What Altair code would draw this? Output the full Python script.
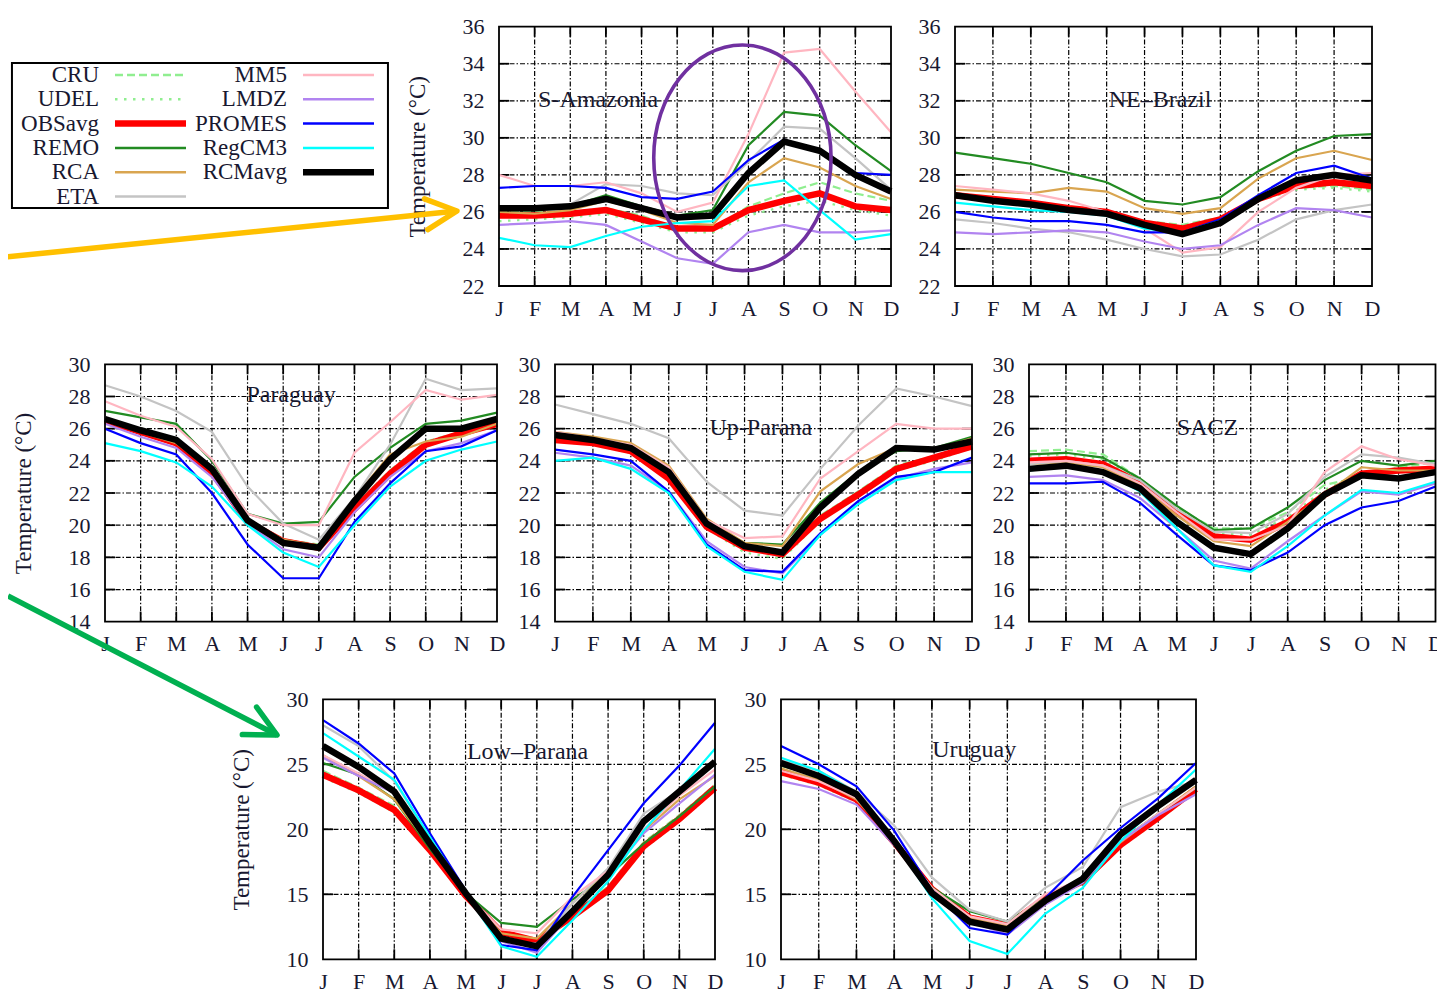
import json
import altair as alt
import pandas as pd

W, H = 1429, 982
FONT = "Liberation Serif"
INK = "#181830"

MONTHS = ["J", "F", "M", "A", "M", "J", "J", "A", "S", "O", "N", "D"]
SERIES = ["CRU", "UDEL", "OBSavg", "REMO", "RCA", "ETA", "MM5", "LMDZ", "PROMES", "RegCM3", "RCMavg"]
COLORS = ["#90ee90", "#90ee90", "#ff0000", "#228b22", "#d9a550", "#c4c4c4",
          "#ffb6c1", "#b184f0", "#0000ff", "#00ffff", "#000000"]
OBS_DASHED = ["CRU", "UDEL"]
DASHES = [[8, 4], [2.5, 6.5]]
MODELS = ["ETA", "MM5", "LMDZ", "RCA", "REMO", "PROMES", "RegCM3"]

S_AMAZONIA = {
    "CRU":    [26.0, 26.0, 26.0, 26.2, 25.8, 25.1, 25.1, 26.3, 27.0, 27.6, 27.0, 26.6],
    "UDEL":   [25.5, 25.6, 25.7, 25.9, 25.4, 24.9, 24.9, 25.8, 26.3, 26.6, 26.1, 25.8],
    "OBSavg": [25.8, 25.8, 25.9, 26.1, 25.6, 25.1, 25.1, 26.1, 26.6, 27.0, 26.3, 26.1],
    "REMO":   [26.1, 26.1, 26.3, 26.9, 26.3, 25.8, 26.1, 29.6, 31.4, 31.2, 29.6, 28.2],
    "RCA":    [26.0, 25.9, 26.1, 26.6, 26.1, 25.4, 25.3, 27.6, 28.9, 28.4, 27.4, 26.7],
    "ETA":    [26.3, 26.3, 26.4, 27.5, 27.4, 27.0, 26.9, 28.7, 30.6, 30.5, 28.9, 27.2],
    "MM5":    [28.0, 27.4, 27.4, 27.6, 27.0, 26.0, 26.5, 30.2, 34.6, 34.8, 32.5, 30.3],
    "LMDZ":   [25.3, 25.4, 25.5, 25.3, 24.4, 23.5, 23.2, 24.9, 25.3, 24.9, 24.9, 25.0],
    "PROMES": [27.3, 27.4, 27.4, 27.3, 26.8, 26.7, 27.1, 28.8, 29.9, 29.3, 28.1, 28.0],
    "RegCM3": [24.6, 24.2, 24.1, 24.7, 25.2, 25.4, 25.5, 27.4, 27.7, 26.1, 24.5, 24.8],
    "RCMavg": [26.2, 26.2, 26.3, 26.7, 26.2, 25.7, 25.8, 28.1, 29.8, 29.3, 28.0, 27.1],
}
NE_BRAZIL = {
    "CRU":    [26.9, 26.7, 26.5, 26.2, 26.0, 25.5, 25.3, 25.7, 26.7, 27.3, 27.4, 27.2],
    "UDEL":   [26.8, 26.6, 26.4, 26.1, 25.9, 25.3, 25.0, 25.5, 26.6, 27.2, 27.3, 27.1],
    "OBSavg": [26.9, 26.7, 26.5, 26.2, 26.0, 25.4, 25.1, 25.6, 26.7, 27.4, 27.6, 27.4],
    "REMO":   [29.2, 28.9, 28.6, 28.1, 27.6, 26.6, 26.4, 26.8, 28.2, 29.3, 30.1, 30.2],
    "RCA":    [27.2, 27.1, 27.0, 27.3, 27.1, 26.2, 25.9, 26.2, 27.8, 28.9, 29.3, 28.8],
    "ETA":    [25.6, 25.4, 25.1, 24.9, 24.5, 24.0, 23.6, 23.7, 24.5, 25.6, 26.1, 26.4],
    "MM5":    [27.4, 27.2, 27.0, 26.6, 26.0, 25.1, 23.8, 24.1, 26.0, 27.3, 28.0, 28.1],
    "LMDZ":   [24.9, 24.8, 24.9, 25.0, 24.9, 24.4, 24.0, 24.2, 25.3, 26.2, 26.1, 25.7],
    "PROMES": [26.0, 25.7, 25.5, 25.5, 25.3, 24.9, 24.9, 25.6, 26.9, 28.1, 28.5, 27.8],
    "RegCM3": [26.5, 26.3, 26.1, 26.0, 25.8, 25.1, 24.9, 25.5, 26.7, 27.8, 28.0, 27.8],
    "RCMavg": [26.9, 26.6, 26.4, 26.1, 25.9, 25.3, 24.8, 25.4, 26.7, 27.7, 28.0, 27.7],
}
PARAGUAY = {
    "CRU":    [26.6, 25.9, 25.2, 23.4, 20.3, 19.1, 18.8, 21.2, 23.4, 25.2, 25.8, 26.4],
    "UDEL":   [26.4, 25.7, 25.0, 23.2, 20.1, 18.9, 18.5, 20.9, 23.1, 24.9, 25.6, 26.2],
    "OBSavg": [26.5, 25.8, 25.1, 23.3, 20.2, 19.0, 18.6, 21.0, 23.2, 25.0, 25.7, 26.3],
    "REMO":   [27.1, 26.7, 26.3, 24.0, 20.7, 20.1, 20.2, 23.0, 24.8, 26.3, 26.5, 27.0],
    "RCA":    [26.5, 25.8, 25.1, 23.4, 20.3, 19.1, 18.7, 21.7, 24.4, 25.2, 25.5, 26.3],
    "ETA":    [28.7, 28.0, 27.1, 25.8, 22.4, 20.1, 19.1, 21.7, 25.0, 29.1, 28.4, 28.5],
    "MM5":    [27.7, 26.8, 26.1, 24.1, 20.7, 20.0, 20.0, 24.5, 26.4, 28.4, 27.8, 28.1],
    "LMDZ":   [26.3, 25.5, 24.8, 23.0, 20.1, 18.5, 18.0, 20.8, 23.0, 24.6, 25.1, 25.9],
    "PROMES": [26.0, 25.1, 24.4, 22.0, 18.8, 16.7, 16.7, 20.2, 22.6, 24.6, 24.9, 25.9],
    "RegCM3": [25.1, 24.6, 23.9, 22.4, 20.0, 18.3, 17.4, 20.0, 22.4, 24.0, 24.7, 25.2],
    "RCMavg": [26.6, 25.9, 25.3, 23.5, 20.3, 18.9, 18.6, 21.5, 24.1, 26.0, 26.0, 26.6],
}
UP_PARANA = {
    "CRU":    [25.4, 25.2, 24.7, 23.0, 20.0, 18.5, 18.2, 20.6, 22.1, 23.7, 24.3, 25.0],
    "UDEL":   [25.2, 25.0, 24.5, 22.8, 19.8, 18.3, 17.9, 20.3, 21.8, 23.4, 24.0, 24.8],
    "OBSavg": [25.3, 25.1, 24.6, 22.9, 19.9, 18.6, 18.2, 20.4, 21.9, 23.5, 24.2, 24.9],
    "REMO":   [25.5, 25.3, 24.7, 23.3, 20.2, 18.9, 18.8, 21.4, 23.3, 24.6, 24.8, 25.5],
    "RCA":    [25.8, 25.5, 25.1, 23.7, 20.4, 18.9, 18.7, 22.1, 23.8, 24.8, 24.7, 25.4],
    "ETA":    [27.5, 26.9, 26.3, 25.4, 22.7, 20.9, 20.6, 23.5, 26.2, 28.5, 28.0, 27.4],
    "MM5":    [25.8, 25.4, 25.0, 23.6, 20.3, 19.2, 19.3, 22.9, 24.6, 26.3, 26.0, 26.0],
    "LMDZ":   [24.5, 24.2, 23.7, 22.1, 19.0, 17.4, 17.0, 19.4, 21.5, 22.9, 23.5, 23.9],
    "PROMES": [24.7, 24.4, 24.0, 22.1, 18.8, 17.2, 17.1, 19.5, 21.5, 23.0, 23.3, 24.2],
    "RegCM3": [24.0, 24.2, 23.5, 22.0, 18.7, 17.1, 16.6, 19.4, 21.3, 22.8, 23.3, 23.3],
    "RCMavg": [25.6, 25.3, 24.8, 23.3, 20.1, 18.7, 18.3, 21.1, 23.2, 24.8, 24.7, 25.2],
}
SACZ = {
    "CRU":    [24.6, 24.7, 24.4, 22.9, 21.1, 19.8, 19.8, 20.8, 22.5, 23.0, 23.6, 23.9],
    "UDEL":   [24.3, 24.4, 24.1, 22.7, 20.9, 19.5, 19.4, 20.5, 22.2, 23.2, 23.4, 23.7],
    "OBSavg": [24.0, 24.1, 23.8, 22.6, 20.8, 19.3, 19.1, 20.2, 21.9, 23.2, 23.4, 23.5],
    "REMO":   [24.4, 24.5, 24.2, 22.9, 21.2, 19.7, 19.8, 21.1, 22.8, 24.0, 23.7, 24.0],
    "RCA":    [23.8, 23.9, 23.6, 22.5, 20.6, 19.0, 18.7, 20.2, 21.9, 23.6, 23.4, 23.4],
    "ETA":    [23.8, 24.0, 23.7, 22.8, 21.0, 19.6, 19.5, 20.7, 23.0, 24.4, 24.2, 23.8],
    "MM5":    [23.9, 24.0, 23.7, 22.6, 20.8, 19.1, 19.1, 20.0, 23.3, 24.9, 24.1, 23.7],
    "LMDZ":   [23.0, 23.1, 22.8, 21.7, 19.8, 17.8, 17.3, 19.0, 20.6, 22.1, 21.9, 22.6],
    "PROMES": [22.6, 22.6, 22.7, 21.4, 19.4, 17.5, 17.2, 18.3, 20.0, 21.1, 21.5, 22.4],
    "RegCM3": [23.4, 23.6, 23.3, 22.1, 19.8, 17.5, 17.1, 18.7, 20.6, 22.2, 22.0, 22.7],
    "RCMavg": [23.5, 23.7, 23.3, 22.3, 20.2, 18.6, 18.2, 19.8, 21.9, 23.1, 22.9, 23.3],
}
LOW_PARANA = {
    "CRU":    [24.5, 23.2, 21.8, 18.6, 15.0, 12.2, 11.5, 13.5, 15.6, 19.0, 21.1, 23.4],
    "UDEL":   [24.0, 22.8, 21.3, 18.2, 14.8, 12.0, 11.3, 13.2, 15.1, 18.5, 20.6, 23.0],
    "OBSavg": [24.2, 23.0, 21.5, 18.4, 14.9, 12.1, 11.4, 13.3, 15.3, 18.7, 20.8, 23.2],
    "REMO":   [25.1, 24.2, 22.3, 18.5, 15.1, 12.8, 12.5, 14.6, 16.4, 18.9, 21.0, 23.3],
    "RCA":    [25.7, 24.1, 22.3, 18.7, 15.1, 12.0, 11.6, 14.3, 16.9, 19.9, 22.3, 24.1],
    "ETA":    [28.0, 26.4, 23.7, 19.4, 15.2, 11.4, 11.2, 14.3, 17.0, 21.2, 23.0, 25.0],
    "MM5":    [25.7, 24.3, 22.8, 18.9, 15.1, 12.3, 12.0, 14.8, 16.8, 20.0, 22.6, 24.6],
    "LMDZ":   [25.5, 24.1, 22.8, 18.9, 15.0, 11.4, 10.5, 13.6, 16.4, 19.7, 22.0, 24.2],
    "PROMES": [28.4, 26.6, 24.3, 19.7, 15.3, 11.1, 10.7, 14.8, 18.4, 22.0, 24.9, 28.2],
    "RegCM3": [27.4, 25.6, 23.8, 19.4, 15.1, 11.0, 10.2, 13.0, 16.0, 19.9, 23.0, 26.2],
    "RCMavg": [26.4, 24.8, 22.9, 18.9, 15.1, 11.6, 11.0, 13.7, 16.5, 20.6, 22.9, 25.2],
}
URUGUAY = {
    "CRU":    [24.6, 23.8, 22.5, 19.2, 15.5, 13.3, 12.7, 14.8, 16.1, 19.0, 21.1, 23.3],
    "UDEL":   [24.2, 23.4, 22.1, 18.8, 15.3, 13.0, 12.4, 14.5, 15.8, 18.6, 20.7, 22.9],
    "OBSavg": [24.4, 23.6, 22.3, 19.0, 15.4, 13.2, 12.6, 14.7, 16.0, 18.8, 20.9, 23.1],
    "REMO":   [24.9, 24.1, 22.6, 19.0, 15.5, 13.7, 12.9, 14.7, 15.9, 19.1, 21.2, 23.2],
    "RCA":    [24.7, 23.8, 22.3, 19.1, 15.5, 13.2, 12.6, 14.7, 16.0, 19.0, 21.2, 23.3],
    "ETA":    [25.3, 24.5, 22.9, 20.3, 16.3, 13.8, 12.9, 15.5, 17.1, 21.7, 22.9, 23.7],
    "MM5":    [24.5, 23.7, 22.4, 19.1, 15.5, 13.3, 12.7, 15.0, 16.2, 19.1, 21.2, 23.2],
    "LMDZ":   [23.7, 23.1, 21.9, 18.8, 15.3, 12.9, 11.9, 14.2, 15.9, 19.1, 21.1, 22.7],
    "PROMES": [26.4, 25.0, 23.3, 19.9, 15.3, 12.4, 11.9, 14.7, 17.6, 20.1, 22.4, 25.1],
    "RegCM3": [25.5, 24.5, 22.8, 19.1, 14.7, 11.4, 10.4, 13.5, 15.5, 19.1, 21.9, 24.6],
    "RCMavg": [25.1, 24.1, 22.7, 19.1, 15.1, 12.9, 12.3, 14.5, 16.2, 19.6, 21.8, 23.8],
}

# panel label anchors, in each panel's own (month index, temperature) units
PANELS = [
    dict(label="S-Amazonia", data=S_AMAZONIA, ymin=22, ymax=36, step=2,
         xr=(491, 883), yr=(278, 18.7), lab=(2.78, 32.04), title=True),
    dict(label="NE\u2013Brazil", data=NE_BRAZIL, ymin=22, ymax=36, step=2,
         xr=(947, 1364), yr=(278, 18.7), lab=(5.41, 32.04), title=False),
    dict(label="Paraguay", data=PARAGUAY, ymin=14, ymax=30, step=2,
         xr=(97, 489), yr=(613.7, 356.3), lab=(5.22, 28.1), title=True),
    dict(label="Up-Parana", data=UP_PARANA, ymin=14, ymax=30, step=2,
         xr=(547, 964), yr=(613.7, 356.3), lab=(5.43, 26.04), title=False),
    dict(label="SACZ", data=SACZ, ymin=14, ymax=30, step=2,
         xr=(1021, 1427.5), yr=(613.7, 356.3), lab=(4.83, 26.04), title=False),
    dict(label="Low\u2013Parana", data=LOW_PARANA, ymin=10, ymax=30, step=5,
         xr=(315, 707), yr=(951.3, 691.3), lab=(5.74, 25.95), title=True),
    dict(label="Uruguay", data=URUGUAY, ymin=10, ymax=30, step=5,
         xr=(773, 1188), yr=(951.3, 691.3), lab=(5.12, 26.1), title=False),
]

# annotations (in the units of the panel they point at)
ELLIPSE_AT = {"m": 6.83, "t": 28.92}
YELLOW_ARROW = {"m": -13.8, "t": 23.57, "m2": -1.18, "t2": 26.05}
GREEN_ARROW = {"m": -8.84, "t": 37.95, "m2": -1.29, "t2": 27.25}

LEGEND_COL = [0, 0, 0, 0, 0, 0, 1, 1, 1, 1, 1]
LEGEND_ROW = [0, 1, 2, 3, 4, 5, 0, 1, 2, 3, 4]
LEGEND_BOX = {"c": -0.463, "c2": 1.537, "r": -0.494, "r2": 5.473}

MONTH_EXPR = json.dumps(MONTHS) + "[datum.value]"
ELLIPSE_SHAPE = "M-0.786,0A0.786,1,0,1,1,0.786,0A0.786,1,0,1,1,-0.786,0Z"
CHEVRON_SHAPE = "M-1,-0.5L0,0L-1,0.5"

color_scale = alt.Scale(domain=SERIES, range=COLORS)
dash_scale = alt.Scale(domain=OBS_DASHED, range=DASHES)


def long_table(data):
    rows = []
    for s in SERIES:
        for i, v in enumerate(data[s]):
            rows.append({"series": s, "m": i, "t": v})
    return pd.DataFrame(rows)


def make_panel(p, idx):
    ymin, ymax = p["ymin"], p["ymax"]
    xs = alt.Scale(domain=[0, 11], range=list(p["xr"]), nice=False, zero=False)
    ys = alt.Scale(domain=[ymin, ymax], range=list(p["yr"]), nice=False, zero=False)
    df = long_table(p["data"])
    yticks = list(range(ymin, ymax + 1, p["step"]))

    xaxis = alt.Axis(orient="bottom", offset=p["yr"][0] - H, values=list(range(12)),
                     labelExpr=MONTH_EXPR, ticks=False, tickSize=0, domain=False, grid=False,
                     labelPadding=12, labelFont=FONT, labelFontSize=22, labelColor=INK,
                     labelOverlap=False, labelFlush=False, title=None)
    yargs = dict(orient="left", offset=-p["xr"][0], values=yticks, ticks=False, tickSize=0,
                 domain=False, grid=False, labelPadding=15, labelFont=FONT, labelFontSize=22,
                 labelColor=INK, labelOverlap=False, labelFlush=False)
    if p["title"]:
        yargs.update(title="Temperature (\u00b0C)", titleX=-82, titleAngle=270,
                     titleBaseline="middle", titleAlign="center", titleFont=FONT,
                     titleFontSize=23, titleFontWeight="normal", titleColor=INK)
    else:
        yargs["title"] = None
    yaxis = alt.Axis(**yargs)

    def X(f):
        return alt.X(f, scale=xs, axis=xaxis)

    def Y(f):
        return alt.Y(f, scale=ys, axis=yaxis)

    tly = 10.0 / (p["yr"][0] - p["yr"][1]) * (ymax - ymin)
    tlx = 10.0 / (p["xr"][1] - p["xr"][0]) * 11

    grid = [{"x": m, "x2": m, "y": ymin, "y2": ymax} for m in range(1, 11)]
    grid += [{"x": 0, "x2": 11, "y": v, "y2": v} for v in yticks[1:-1]]
    ticks = []
    for m in range(1, 11):
        ticks.append({"x": m, "x2": m, "y": ymin, "y2": ymin + tly})
        ticks.append({"x": m, "x2": m, "y": ymax - tly, "y2": ymax})
    for v in yticks[1:-1]:
        ticks.append({"x": 0, "x2": tlx, "y": v, "y2": v})
        ticks.append({"x": 11 - tlx, "x2": 11, "y": v, "y2": v})

    seg = dict(x=X("x:Q"), x2="x2:Q", y=Y("y:Q"), y2="y2:Q")
    grid_l = alt.Chart(pd.DataFrame(grid)).mark_rule(
        color="black", strokeWidth=1.2, strokeDash=[5, 2, 1.5, 2]).encode(**seg)
    tick_l = alt.Chart(pd.DataFrame(ticks)).mark_rule(
        color="black", strokeWidth=1.8).encode(**seg)

    pos = dict(x=X("m:Q"), y=Y("t:Q"))
    base = alt.Chart(df)
    obs_dash = base.transform_filter(
        alt.FieldOneOfPredicate(field="series", oneOf=OBS_DASHED)
    ).mark_line(strokeWidth=2.2).encode(
        color=alt.Color("series:N", scale=color_scale, legend=None),
        strokeDash=alt.StrokeDash("series:N", scale=dash_scale, legend=None), **pos)
    obs_avg = base.transform_filter(alt.datum.series == "OBSavg").mark_line(
        color="#ff0000", strokeWidth=6.5).encode(**pos)
    models = base.transform_filter(
        alt.FieldOneOfPredicate(field="series", oneOf=MODELS)
    ).mark_line(strokeWidth=2.2).encode(
        color=alt.Color("series:N", scale=color_scale, legend=None), **pos)
    rcm = base.transform_filter(alt.datum.series == "RCMavg").mark_line(
        color="#000000", strokeWidth=6.5).encode(**pos)

    frame = alt.Chart(pd.DataFrame([{"x": 0, "x2": 11, "y": ymin, "y2": ymax}])).mark_rect(
        fillOpacity=0, stroke="black", strokeWidth=1.8).encode(**seg)

    lab = alt.Chart(pd.DataFrame([{"m": p["lab"][0], "t": p["lab"][1], "txt": p["label"]}])).mark_text(
        font=FONT, fontSize=24, color=INK, align="center", baseline="middle").encode(
        text="txt:N", **pos)

    layers = [grid_l, tick_l, obs_dash, obs_avg, models, rcm, frame, lab]

    def arrow(spec, color, angle):
        adf = pd.DataFrame([spec])
        line = alt.Chart(adf).mark_rule(color=color, strokeWidth=5.5).encode(
            x=X("m:Q"), y=Y("t:Q"), x2="m2:Q", y2="t2:Q")
        head = alt.Chart(adf).mark_point(shape=CHEVRON_SHAPE, size=3844, filled=False, opacity=1,
                                         stroke=color, strokeWidth=5.5, angle=angle,
                                         strokeCap="round", strokeJoin="round").encode(
            x=X("m2:Q"), y=Y("t2:Q"))
        return [line, head]

    if idx == 0:
        ell = alt.Chart(pd.DataFrame([ELLIPSE_AT])).mark_point(
            shape=ELLIPSE_SHAPE, size=50895, filled=False, opacity=1,
            stroke="#7030a0", strokeWidth=3.6).encode(**pos)
        layers.append(ell)
        layers += arrow(YELLOW_ARROW, "#ffc000", 354)
    if idx == 5:
        layers += arrow(GREEN_ARROW, "#00b050", 27.3)
    return alt.layer(*layers)


def make_legend():
    leg = pd.DataFrame({"series": SERIES, "col": LEGEND_COL, "row": LEGEND_ROW})
    lx = alt.Scale(domain=[0, 1], range=[91, 279], nice=False, zero=False)
    ly = alt.Scale(domain=[0, 5], range=[67, 188.5], nice=False, zero=False)
    enc = dict(x=alt.X("col:Q", scale=lx, axis=None), x2="col:Q",
               y=alt.Y("row:Q", scale=ly, axis=None))
    box = alt.Chart(pd.DataFrame([LEGEND_BOX])).mark_rect(
        fillOpacity=0, stroke="black", strokeWidth=2).encode(
        x=alt.X("c:Q", scale=lx, axis=None), x2="c2:Q",
        y=alt.Y("r:Q", scale=ly, axis=None), y2="r2:Q")
    txt = alt.Chart(leg).mark_text(font=FONT, fontSize=23, color=INK, align="right",
                                   baseline="middle").encode(
        x=alt.X("col:Q", scale=lx, axis=None), y=alt.Y("row:Q", scale=ly, axis=None),
        text="series:N")
    base = alt.Chart(leg)
    r_dash = base.transform_filter(
        alt.FieldOneOfPredicate(field="series", oneOf=OBS_DASHED)
    ).mark_rule(strokeWidth=2.5, xOffset=16, x2Offset=87).encode(
        color=alt.Color("series:N", scale=color_scale, legend=None),
        strokeDash=alt.StrokeDash("series:N", scale=dash_scale, legend=None), **enc)
    r_thin = base.transform_filter(
        alt.FieldOneOfPredicate(field="series", oneOf=MODELS)
    ).mark_rule(strokeWidth=2.5, xOffset=16, x2Offset=87).encode(
        color=alt.Color("series:N", scale=color_scale, legend=None), **enc)
    r_thick = base.transform_filter(
        alt.FieldOneOfPredicate(field="series", oneOf=["OBSavg", "RCMavg"])
    ).mark_rule(strokeWidth=6.5, xOffset=16, x2Offset=87).encode(
        color=alt.Color("series:N", scale=color_scale, legend=None), **enc)
    return alt.layer(box, txt, r_dash, r_thin, r_thick)


panels = [make_panel(p, i) for i, p in enumerate(PANELS)]
order = [panels[2], panels[3], panels[4], panels[1], panels[6], panels[0], panels[5], make_legend()]

chart = alt.layer(*order).resolve_scale(
    x="independent", y="independent"
).properties(
    width=W, height=H, padding=0,
    autosize=alt.AutoSizeParams(type="none"),
    background="white",
).configure_view(strokeWidth=0)

chart.save("out.html", embed_options={"renderer": "svg", "actions": False})
